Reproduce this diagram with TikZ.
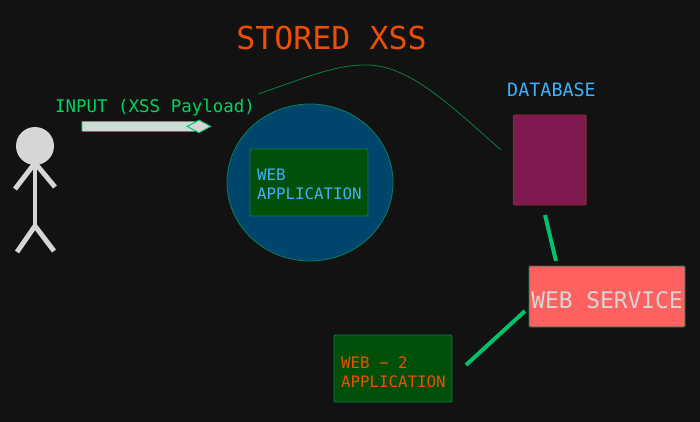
\documentclass[tikz,border=0pt]{standalone}
\usepackage{xcolor}
\usepackage{fontspec}
\setmonofont{DejaVu Sans Mono}
\usetikzlibrary{shapes.geometric}
\definecolor{bgdark}{HTML}{121212}
\definecolor{limeline}{HTML}{00C26A}
\definecolor{sealine}{HTML}{0A7D5A}
\definecolor{curvegreen}{HTML}{0A8040}
\definecolor{figgray}{HTML}{D6D6D6}
\definecolor{orangetxt}{HTML}{EC4E02}
\definecolor{bluetxt}{HTML}{40B0F8}
\definecolor{inputgreen}{HTML}{00D45F}
\definecolor{circleblue}{HTML}{00456B}
\definecolor{appgreen}{HTML}{024F0A}
\definecolor{dbpurple}{HTML}{7F1A50}
\definecolor{dbline}{HTML}{8A2E2A}
\definecolor{servered}{HTML}{FF6161}
\newcommand{\lowered}[2]{\raisebox{-#1}[\height][\depth]{#2}}
\tikzset{
  label/.style={inner sep=0pt,font=\ttfamily},
  panel/.style={draw=sealine,line width=0.8pt,rounded corners=1pt,inner sep=0pt},
  appbox/.style={panel,fill=appgreen,minimum width=3.54cm,minimum height=2.01cm,
    align=left,text width=3.12cm,font=\ttfamily\fontsize{13.5pt}{16.2pt}\selectfont},
  link/.style={draw=limeline,line width=3.4pt},
  limb/.style={draw=figgray,line width=4.2pt}
}
\begin{document}
\begin{tikzpicture}[x=0.03cm,y=-0.03cm]
  \useasboundingbox (0,0) rectangle (700,422);
  \fill[bgdark] (0,0) rectangle (700,422);
  \node[label,text=orangetxt,font=\ttfamily\fontsize{27pt}{32pt}\selectfont] (title) at (331.5,38) {STORED XSS};
  \node[label,text=inputgreen,font=\ttfamily\fontsize{14.9pt}{18pt}\selectfont] (input) at (155,107.5) {INPUT (XSS Payload)};
  \node[label,text=bluetxt,font=\ttfamily\fontsize{15.7pt}{19pt}\selectfont] (dbtitle) at (551.5,89.5) {DATABASE};
  \node[circle,fill=figgray,inner sep=0pt,minimum size=1.14cm] (head) at (35,146) {};
  \coordinate (neck) at (35,163);
  \coordinate (hip) at (35,226);
  \coordinate (handl) at (15,189);
  \coordinate (handr) at (55,187);
  \coordinate (footl) at (17,252);
  \coordinate (footr) at (54,251);
  \draw[limb] (neck)--(hip);
  \draw[limb] (neck)--(handl); \draw[limb] (neck)--(handr);
  \draw[limb] (hip)--(footl); \draw[limb] (hip)--(footr);
  \node[draw=limeline,line width=0.5pt,fill=figgray,rounded corners=0.5pt,inner sep=0pt,minimum width=3.39cm,minimum height=0.3cm] (bar) at (138.5,126.3) {};
  \node[diamond,aspect=1.85,draw=limeline,line width=0.8pt,fill=figgray,inner sep=0pt,minimum width=0.72cm,minimum height=0.39cm] (tip) at (199,126.4) {};
  \node[ellipse,draw=sealine,line width=0.7pt,fill=circleblue,inner sep=0pt,minimum width=4.98cm,minimum height=4.71cm] (webcircle) at (310,182.5) {};
  \node[appbox,text=bluetxt] (webapp) at (309,182.5) {\lowered{0.06cm}{WEB}\\\lowered{0.06cm}{APPLICATION}};
  \node[panel,draw=dbline,fill=dbpurple,minimum width=2.18cm,minimum height=2.7cm] (database) at (549.8,160) {};
  \node[panel,fill=servered,minimum width=4.68cm,minimum height=1.83cm,text=figgray,font=\ttfamily\fontsize{19.5pt}{23pt}\selectfont] (webservice) at (607,296.5) {\lowered{0.12cm}{WEB SERVICE}};
  \node[appbox,text=orangetxt] (webtwo) at (393,368.5) {\lowered{0.12cm}{WEB\makebox[1.806em][c]{−}2}\\\lowered{0.12cm}{APPLICATION}};
  \coordinate (curvestart) at (258,94);
  \coordinate (curvetop) at (368,65);
  \coordinate (curveend) at (501,150);
  \draw[curvegreen,line width=0.7pt] (curvestart) .. controls (300,80) and (335,64) .. (curvetop) .. controls (410,66) and (450,105) .. (curveend);
  \coordinate (dblink) at (545,215);
  \coordinate (servup) at (556,261);
  \coordinate (servdown) at (525,311);
  \coordinate (twolink) at (466,365);
  \draw[link] (dblink)--(servup);
  \draw[link] (servdown)--(twolink);
\end{tikzpicture}
\end{document}
